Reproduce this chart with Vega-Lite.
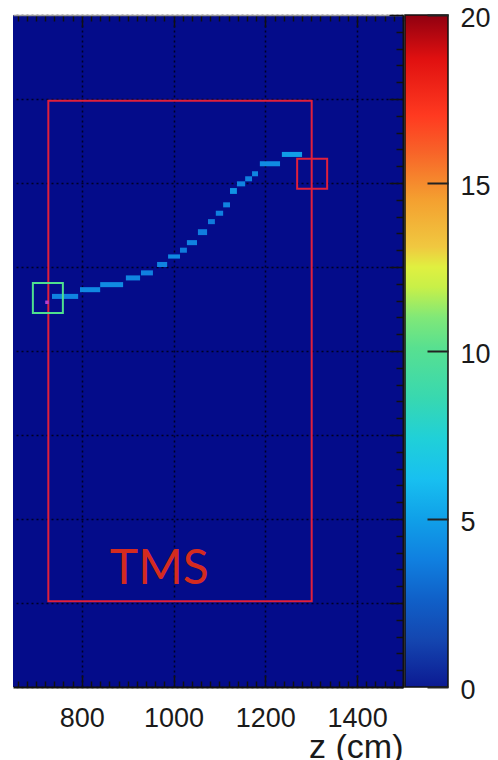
{
  "$schema": "https://vega.github.io/schema/vega-lite/v6.json",
  "background": "white",
  "padding": {"left": 13, "top": 4, "right": 0, "bottom": 0},
  "config": {
    "view": {"stroke": null},
    "font": "Liberation Sans",
    "axis": {"labelFont": "Liberation Sans", "titleFont": "Liberation Sans", "labelColor": "#1a1a1a", "titleColor": "#1a1a1a", "titleFontWeight": "normal"}
  },
  "spacing": 2,
  "bounds": "flush",
  "hconcat": [
    {
      "width": 390,
      "height": 672,
      "view": {"fill": "#040c8a"},
      "resolve": {"axis": {"x": "independent", "y": "independent"}},
      "layer": [
        {
          "data": {
            "values": [
              {"z0": 735, "z1": 792, "y0": 62, "y1": 68, "q": 3.9},
              {"z0": 796, "z1": 840, "y0": 70, "y1": 76, "q": 4.1},
              {"z0": 840, "z1": 890, "y0": 76, "y1": 82, "q": 4.2},
              {"z0": 896, "z1": 927, "y0": 84, "y1": 90, "q": 4.0},
              {"z0": 929, "z1": 955, "y0": 90, "y1": 96, "q": 3.8},
              {"z0": 964, "z1": 986, "y0": 100, "y1": 106, "q": 3.9},
              {"z0": 988, "z1": 1014, "y0": 110, "y1": 115, "q": 4.1},
              {"z0": 1014, "z1": 1029, "y0": 117, "y1": 123, "q": 3.6},
              {"z0": 1029, "z1": 1051, "y0": 126, "y1": 132, "q": 3.9},
              {"z0": 1053, "z1": 1073, "y0": 138, "y1": 145, "q": 3.7},
              {"z0": 1075, "z1": 1090, "y0": 151, "y1": 157, "q": 3.6},
              {"z0": 1092, "z1": 1108, "y0": 161, "y1": 167, "q": 3.8},
              {"z0": 1108, "z1": 1123, "y0": 171, "y1": 177, "q": 3.9},
              {"z0": 1123, "z1": 1138, "y0": 187, "y1": 194, "q": 4.5},
              {"z0": 1138, "z1": 1156, "y0": 196, "y1": 202, "q": 3.9},
              {"z0": 1156, "z1": 1171, "y0": 202, "y1": 208, "q": 3.8},
              {"z0": 1171, "z1": 1184, "y0": 208, "y1": 214, "q": 4.0},
              {"z0": 1188, "z1": 1232, "y0": 220, "y1": 226, "q": 4.2},
              {"z0": 1236, "z1": 1280, "y0": 231, "y1": 237, "q": 4.9}
            ]
          },
          "mark": {"type": "rect"},
          "encoding": {
            "x": {
              "field": "z0", "type": "quantitative",
              "scale": {"domain": [650, 1500], "nice": false, "zero": false},
              "axis": {
                "orient": "bottom",
                "title": "z (cm)",
                "titleFontSize": 34,
                "titleAnchor": "end",
                "titleBaseline": "alphabetic",
                "titleY": 70,
                "tickCount": 42,
                "format": "d",
                "labelExpr": "datum.value % 200 === 0 ? datum.label : ''",
                "labelOverlap": false,
                "labelFontSize": 27,
                "labelBaseline": "alphabetic",
                "labelPadding": 51,
                "tickColor": "#111111",
                "tickWidth": 1.5,
                "tickSize": {"condition": {"test": "datum.value % 200 === 0", "value": -12}, "value": -6},
                "grid": true,
                "gridColor": "#000018",
                "gridWidth": 1.5,
                "gridDash": [2, 3],
                "gridOpacity": {"condition": {"test": "datum.value % 200 === 0", "value": 0.9}, "value": 0},
                "domainColor": "#111111",
                "domainWidth": 2
              }
            },
            "x2": {"field": "z1"},
            "y": {
              "field": "y0", "type": "quantitative",
              "scale": {"domain": [-400, 400], "nice": false, "zero": false},
              "axis": {
                "orient": "right",
                "title": null,
                "labels": false,
                "tickCount": 40,
                "tickColor": "#111111",
                "tickWidth": 1.5,
                "tickSize": {"condition": {"test": "datum.value % 100 === 0", "value": -14}, "value": -7},
                "grid": true,
                "gridColor": "#000018",
                "gridWidth": 1.5,
                "gridDash": [2, 3],
                "gridOpacity": {"condition": {"test": "datum.value % 100 === 0", "value": 0.9}, "value": 0},
                "domainColor": "#111111",
                "domainWidth": 2
              }
            },
            "y2": {"field": "y1"},
            "color": {
              "field": "q", "type": "quantitative",
              "scale": {
                "domain": [0, 1.4, 2.6, 3.8, 5, 6.2, 7.4, 8.6, 10.1, 11, 11.9, 12.5, 13.1, 14.5, 16, 17, 18.7, 20],
                "range": ["#0c1a92", "#1446b0", "#1060c8", "#1080e0", "#10a0e8", "#18c0f0", "#20d0d8", "#38d8b0", "#58e090", "#80e878", "#c8f048", "#e0f040", "#f0c840", "#f4a030", "#f86028", "#ff3a20", "#e01010", "#900010"],
                "interpolate": "rgb"
              },
              "legend": null
            }
          }
        },
        {
          "data": {"values": [{"z0": 727, "z1": 1301, "y0": -298, "y1": 298}]},
          "mark": {"type": "rect", "fillOpacity": 0, "stroke": "#e0203c", "strokeWidth": 2},
          "encoding": {
            "x": {
              "field": "z0", "type": "quantitative",
              "axis": {
                "orient": "top",
                "title": null,
                "labels": false,
                "tickCount": 42,
                "tickColor": "#111111",
                "tickWidth": 1.5,
                "tickSize": {"condition": {"test": "datum.value % 200 === 0", "value": -12}, "value": -6},
                "grid": false,
                "domainColor": "#9a9a9a",
                "domainWidth": 1.5
              }
            },
            "x2": {"field": "z1"},
            "y": {"field": "y0", "type": "quantitative", "axis": null},
            "y2": {"field": "y1"}
          }
        },
        {
          "data": {
            "values": [
              {"z": 726, "y": 63, "kind": "entry"},
              {"z": 1302, "y": 211, "kind": "exit"}
            ]
          },
          "mark": {"type": "point", "shape": "square", "size": 900, "filled": false, "strokeWidth": 2, "opacity": 1},
          "encoding": {
            "x": {"field": "z", "type": "quantitative", "axis": null},
            "y": {"field": "y", "type": "quantitative", "axis": null},
            "stroke": {
              "field": "kind", "type": "nominal",
              "scale": {"domain": ["entry", "exit"], "range": ["#4fe08e", "#e0203c"]},
              "legend": null
            }
          }
        },
        {
          "data": {"values": [{"z": 724, "y": 58}]},
          "mark": {"type": "point", "shape": "square", "size": 12, "filled": true, "color": "#b040d0", "opacity": 1},
          "encoding": {
            "x": {"field": "z", "type": "quantitative", "axis": null},
            "y": {"field": "y", "type": "quantitative", "axis": null}
          }
        },
        {
          "data": {"values": [{"z": 861, "y": -277, "label": "TMS"}]},
          "mark": {"type": "text", "align": "left", "baseline": "alphabetic", "font": "Lato", "fontSize": 48, "color": "#d42b1f"},
          "encoding": {
            "x": {"field": "z", "type": "quantitative", "axis": null},
            "y": {"field": "y", "type": "quantitative", "axis": null},
            "text": {"field": "label"}
          }
        }
      ]
    },
    {
      "width": 43,
      "height": 672,
      "data": {"values": [{"lo": 0, "hi": 20}]},
      "mark": {
        "type": "rect",
        "stroke": "#111111",
        "strokeWidth": 1.5,
        "fill": {
          "gradient": "linear",
          "x1": 0, "y1": 1, "x2": 0, "y2": 0,
          "stops": [
            {"offset": 0, "color": "#0c1a92"},
            {"offset": 0.07, "color": "#1446b0"},
            {"offset": 0.13, "color": "#1060c8"},
            {"offset": 0.19, "color": "#1080e0"},
            {"offset": 0.25, "color": "#10a0e8"},
            {"offset": 0.31, "color": "#18c0f0"},
            {"offset": 0.37, "color": "#20d0d8"},
            {"offset": 0.43, "color": "#38d8b0"},
            {"offset": 0.505, "color": "#58e090"},
            {"offset": 0.55, "color": "#80e878"},
            {"offset": 0.595, "color": "#c8f048"},
            {"offset": 0.625, "color": "#e0f040"},
            {"offset": 0.655, "color": "#f0c840"},
            {"offset": 0.725, "color": "#f4a030"},
            {"offset": 0.8, "color": "#f86028"},
            {"offset": 0.85, "color": "#ff3a20"},
            {"offset": 0.935, "color": "#e01010"},
            {"offset": 1, "color": "#900010"}
          ]
        }
      },
      "encoding": {
        "y": {
          "field": "lo", "type": "quantitative",
          "scale": {"domain": [0, 20], "nice": false},
          "axis": {
            "orient": "right",
            "title": null,
            "values": [0, 5, 10, 15, 20],
            "zindex": 1,
            "tickSize": -21,
            "tickColor": "#222222",
            "tickWidth": 2,
            "labelFontSize": 27,
            "labelPadding": 33,
            "labelOffset": 3,
            "labelBaseline": "middle",
            "domain": false,
            "grid": false
          }
        },
        "y2": {"field": "hi"}
      }
    }
  ]
}
